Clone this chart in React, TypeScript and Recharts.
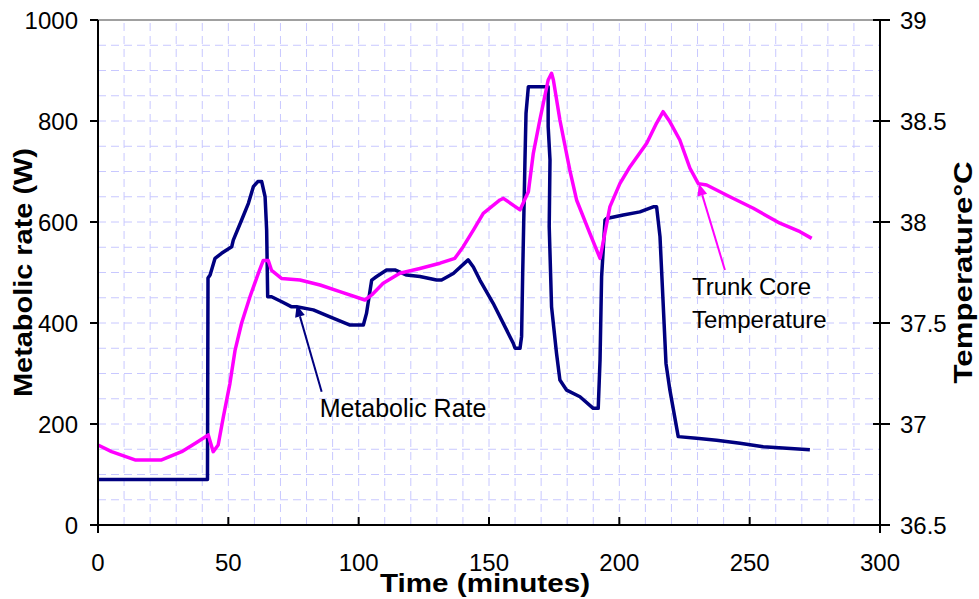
import React from "react";
import {
  LineChart,
  Line,
  XAxis,
  YAxis,
  ReferenceLine,
  Label,
} from "recharts";

// Metabolic rate (W)
const metMinutes = [
  0, 42, 42.2, 43, 44.9, 47.4, 51.3, 51.9, 55.1, 57.7, 59.6, 61.3, 62.8, 64.1,
  64.7, 65.1, 66.6, 70.5, 74.3, 76.2, 82.6, 89, 96.7, 101.8, 103, 105, 106.9,
  110.7, 113.9, 118.4, 123.5, 129.9, 131.8, 136.3, 142, 144, 146.5, 151.6,
  159.3, 160, 161.9, 162.5, 162.9, 163.8, 164.2, 165.1, 172.7, 172.7, 173.4,
  173.1, 174, 175.9, 177.2, 179.8, 184.9, 190, 191.9, 192.6, 193.2, 194.5,
  195.1, 201.5, 207.9, 213, 214.3, 215.6, 217.9, 219.4, 222.6, 229.6, 237.3,
  246.3, 255.2, 264.2, 273.1,
];
const metWatts = [
  90, 90, 489, 495, 528, 538, 551, 564, 604, 637, 670, 680, 680, 650, 584, 452,
  452, 442, 432, 432, 426, 412, 396, 396, 419, 485, 492, 505, 505, 495, 492,
  485, 485, 498, 525, 511, 485, 439, 360, 350, 350, 373, 492, 723, 815, 868,
  868, 789, 723, 591, 432, 340, 287, 267, 254, 231, 231, 327, 492, 604, 607,
  614, 620, 630, 630, 571, 320, 267, 175, 172, 168, 162, 155, 152, 149,
];

// Trunk core temperature (°C)
const tempMinutes = [
  0, 5.2, 14.2, 24.4, 32.1, 37.2, 42.3, 44.2, 46.1, 48.1, 50.6, 52.6, 55.1,
  58.3, 61.5, 63.4, 65.3, 66.6, 70.5, 77.5, 85.2, 92.8, 102.4, 105, 109.4,
  115.8, 123.5, 131.2, 136.9, 140.1, 144, 147.8, 154.2, 155.5, 161.9, 165.1,
  167, 169.5, 172.7, 174, 174.7, 177.2, 181, 183.6, 188.7, 192.6, 196.4, 200.2,
  204.1, 210.5, 214.3, 216.8, 219.4, 223.2, 227.1, 230.3, 233.5, 242.4, 251.4,
  261.6, 269.3, 273.8,
];
const tempCelsius = [
  36.896, 36.863, 36.822, 36.822, 36.863, 36.904, 36.946, 36.863, 36.896,
  37.036, 37.2, 37.366, 37.5, 37.63, 37.746, 37.81, 37.81, 37.76, 37.72, 37.713,
  37.688, 37.655, 37.614, 37.639, 37.697, 37.746, 37.77, 37.796, 37.82, 37.878,
  37.96, 38.043, 38.109, 38.117, 38.06, 38.15, 38.34, 38.505, 38.703, 38.736,
  38.703, 38.505, 38.257, 38.109, 37.944, 37.82, 38.076, 38.19, 38.274, 38.39,
  38.49, 38.546, 38.496, 38.406, 38.266, 38.19, 38.183, 38.125, 38.068, 37.994,
  37.952, 37.919,
];

// axes and grid
const xTicks = [0, 50, 100, 150, 200, 250, 300];
const leftTicks = [0, 200, 400, 600, 800, 1000];
const rightTicks = [36.5, 37, 37.5, 38, 38.5, 39];
const gridMinutes = [
  10, 20, 30, 40, 50, 60, 70, 80, 90, 100, 110, 120, 130, 140, 150, 160, 170,
  180, 190, 200, 210, 220, 230, 240, 250, 260, 270, 280, 290,
];
const gridWatts = [
  50, 100, 150, 200, 250, 300, 350, 400, 450, 500, 550, 600, 650, 700, 750, 800,
  850, 900, 950,
];

// annotation arrows: [tail, tip]
const metArrow = [
  { x: 85.8, y: 264 },
  { x: 76.2, y: 436 },
];
const tempArrow = [
  { x: 240.5, y: 37.762 },
  { x: 230.5, y: 38.19 },
];

const FONT = '"Liberation Sans", Arial, sans-serif';
const NAVY = "#000080";
const MAGENTA = "#ff00ff";

const metData = metMinutes.map((t, i) => ({ t, w: metWatts[i] }));
const tempData = tempMinutes.map((t, i) => ({ t, c: tempCelsius[i] }));

const arrowShape =
  (color: string, lines: string[], dx: number, fontSize: number) =>
  (p: any) => {
    const { x1, y1, x2, y2 } = p;
    const ang = Math.atan2(y2 - y1, x2 - x1);
    const len = 12;
    const half = 5;
    const bx = x2 - len * Math.cos(ang);
    const by = y2 - len * Math.sin(ang);
    const s = Math.sin(ang);
    const c = Math.cos(ang);
    const pts = `${x2},${y2} ${bx + half * s},${by - half * c} ${bx - half * s},${by + half * c}`;
    return (
      <g>
        <line x1={x1} y1={y1} x2={bx} y2={by} stroke={color} strokeWidth={2} />
        <polygon points={pts} fill={color} />
        {lines.map((txt, i) => (
          <text
            key={i}
            x={x1 + dx}
            y={y1 + 25 + i * 33}
            fontSize={fontSize}
            fontFamily={FONT}
            fill="#000"
          >
            {txt}
          </text>
        ))}
      </g>
    );
  };

const BottomTick = (p: any) => {
  const { x, y, payload, index } = p;
  const axisY = y - 29;
  const down = index === 0 || index === xTicks.length - 1;
  return (
    <g>
      <line
        x1={x}
        x2={x}
        y1={axisY}
        y2={down ? axisY + 8 : axisY - 8}
        stroke="#000"
        strokeWidth={2}
      />
      <text
        x={x}
        y={y}
        dy="0.71em"
        textAnchor="middle"
        fontSize={24}
        fontFamily={FONT}
        fill="#000"
      >
        {payload.value}
      </text>
    </g>
  );
};

const RightTick = (p: any) => {
  const { x, y, payload, index } = p;
  return (
    <g>
      {index > 0 && (
        <line x1={x - 27} y1={y} x2={x - 20} y2={y} stroke="#000" strokeWidth={2} />
      )}
      <text
        x={x}
        y={y}
        dy="0.355em"
        textAnchor="start"
        fontSize={24}
        fontFamily={FONT}
        fill="#000"
      >
        {payload.value}
      </text>
    </g>
  );
};

// the title box is opaque in the original and hides most of the "150" label
const xTitle = ({ viewBox }: any) => {
  const cx = viewBox.x + viewBox.width / 2 - 4;
  return (
    <g>
      <rect x={cx - 108} y={viewBox.y + 41} width={216} height={33} fill="#fff" />
      <text
        x={cx}
        y={viewBox.y + 67}
        textAnchor="middle"
        fontSize={26}
        fontWeight="bold"
        fontFamily={FONT}
        textLength={210}
        lengthAdjust="spacingAndGlyphs"
        fill="#000"
      >
        Time (minutes)
      </text>
    </g>
  );
};

const leftTitle = ({ viewBox }: any) => {
  const cx = viewBox.x - 6;
  const cy = viewBox.y + viewBox.height / 2;
  return (
    <text
      x={cx}
      y={cy}
      transform={`rotate(-90, ${cx}, ${cy})`}
      textAnchor="middle"
      fontSize={26}
      fontWeight="bold"
      fontFamily={FONT}
      textLength={249}
      lengthAdjust="spacingAndGlyphs"
      fill="#000"
    >
      Metabolic rate (W)
    </text>
  );
};

const rightTitle = ({ viewBox }: any) => {
  const cx = viewBox.x + viewBox.width + 32;
  const cy = viewBox.y + viewBox.height / 2;
  return (
    <text
      x={cx}
      y={cy}
      transform={`rotate(-90, ${cx}, ${cy})`}
      textAnchor="middle"
      fontSize={26}
      fontWeight="bold"
      fontFamily={FONT}
      textLength={222}
      lengthAdjust="spacingAndGlyphs"
      fill="#000"
    >
      Temperature°C
    </text>
  );
};

export default function App() {
  return (
    <div style={{ position: "absolute", left: 0, top: 0, background: "#fff" }}>
      <LineChart
        width={979}
        height={599}
        margin={{ top: 20, right: 39, bottom: 34, left: 38 }}
        style={{ fontFamily: FONT }}
      >
        <XAxis
          dataKey="t"
          type="number"
          domain={[0, 300]}
          ticks={xTicks}
          tickLine={false}
          tickSize={8}
          tickMargin={21}
          height={40}
          stroke="#000"
          strokeWidth={2}
          tick={<BottomTick />}
        >
          <Label content={xTitle} />
        </XAxis>
        <YAxis
          yAxisId="left"
          type="number"
          domain={[0, 1000]}
          ticks={leftTicks}
          width={60}
          tickSize={8}
          tickMargin={12}
          stroke="#000"
          strokeWidth={2}
          tick={{ fontSize: 24, fill: "#000", fontFamily: FONT }}
        >
          <Label content={leftTitle} />
        </YAxis>
        <YAxis
          yAxisId="right"
          orientation="right"
          type="number"
          domain={[36.5, 39]}
          ticks={rightTicks}
          width={60}
          tickSize={10}
          tickMargin={10}
          stroke="#000"
          strokeWidth={2}
          tick={<RightTick />}
        >
          <Label content={rightTitle} />
        </YAxis>

        {gridMinutes.map((m) => (
          <ReferenceLine
            key={`gx${m}`}
            x={m}
            yAxisId="left"
            stroke="#c8c8ff"
            strokeDasharray="8 5"
            strokeWidth={1}
          />
        ))}
        {gridWatts.map((w) => (
          <ReferenceLine
            key={`gy${w}`}
            y={w}
            yAxisId="left"
            stroke="#c8c8ff"
            strokeDasharray="8 5"
            strokeWidth={1}
          />
        ))}
        <ReferenceLine y={1000} yAxisId="left" stroke="#a0a0a0" strokeWidth={2} />

        <Line
          yAxisId="left"
          data={metData}
          dataKey="w"
          type="linear"
          stroke={NAVY}
          strokeWidth={3.5}
          strokeLinejoin="round"
          dot={false}
          isAnimationActive={false}
        />
        <Line
          yAxisId="right"
          data={tempData}
          dataKey="c"
          type="linear"
          stroke={MAGENTA}
          strokeWidth={3.5}
          strokeLinejoin="round"
          dot={false}
          isAnimationActive={false}
        />

        <ReferenceLine
          yAxisId="left"
          segment={metArrow}
          stroke={NAVY}
          shape={arrowShape(NAVY, ["Metabolic Rate"], -2, 25)}
        />
        <ReferenceLine
          yAxisId="right"
          segment={tempArrow}
          stroke={MAGENTA}
          shape={arrowShape(MAGENTA, ["Trunk Core", "Temperature"], -33, 24)}
        />
      </LineChart>
    </div>
  );
}
